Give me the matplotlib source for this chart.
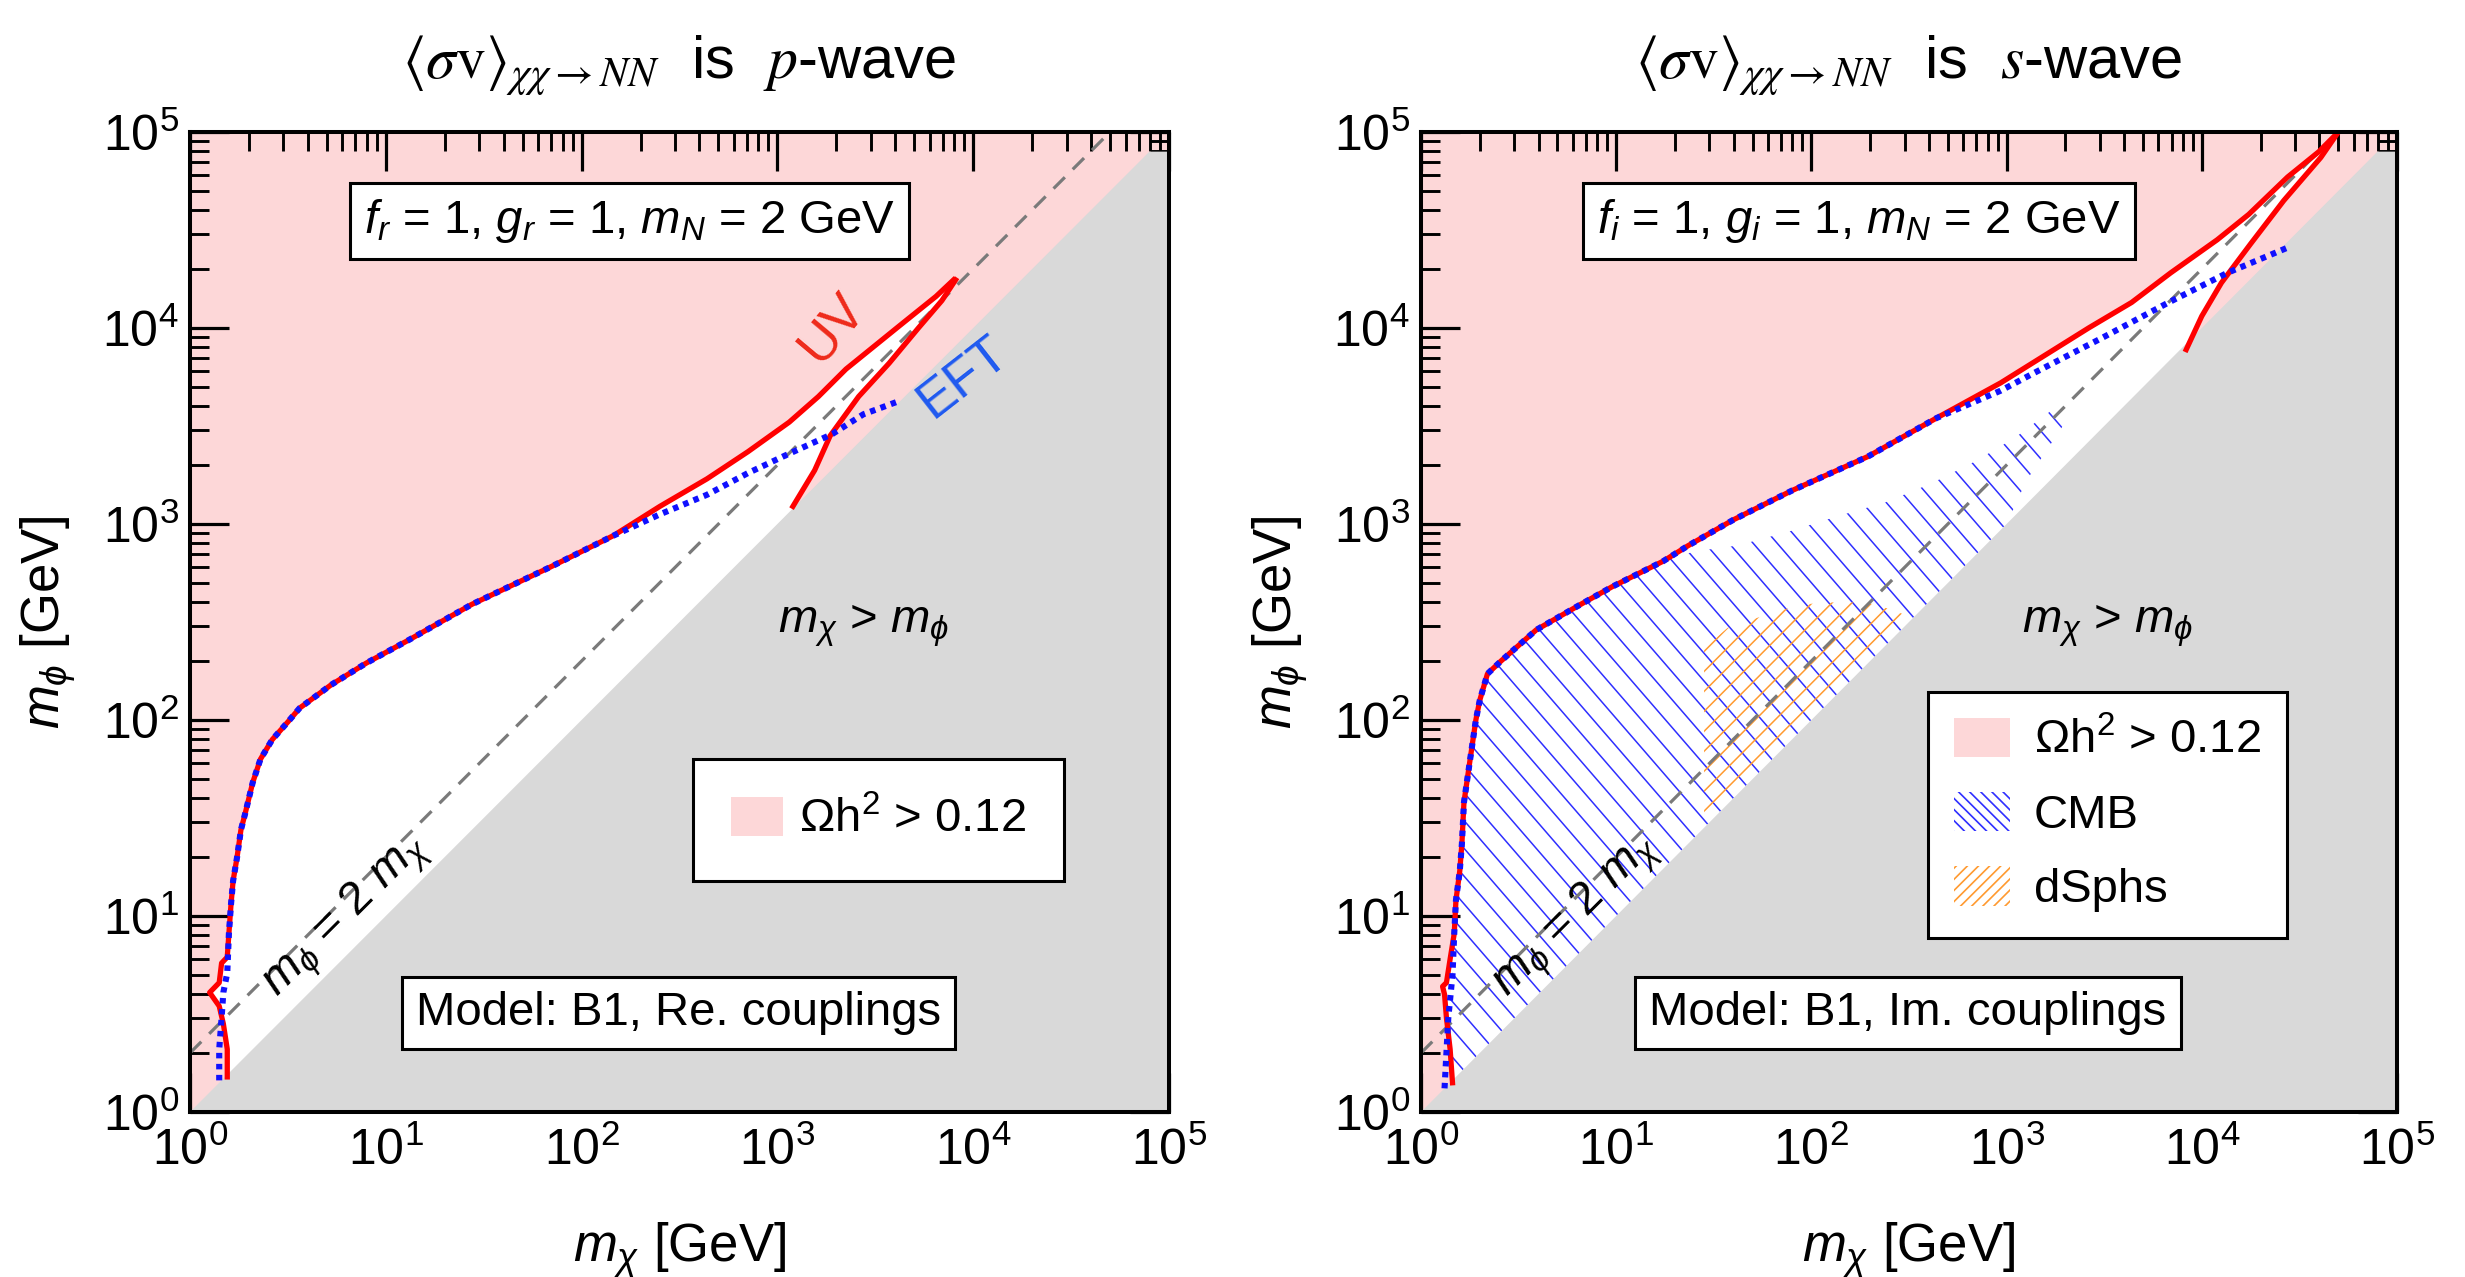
import numpy as np
import matplotlib
matplotlib.use('Agg')
import matplotlib.pyplot as plt
from matplotlib.patches import Polygon, Patch
from matplotlib.collections import LineCollection
from matplotlib.ticker import LogLocator, NullFormatter

plt.rcParams['font.family'] = ['Liberation Sans', 'DejaVu Sans']
plt.rcParams['mathtext.fontset'] = 'custom'
plt.rcParams['mathtext.rm'] = 'Liberation Sans'
plt.rcParams['mathtext.it'] = 'Liberation Sans:italic'
plt.rcParams['mathtext.bf'] = 'Liberation Sans:bold'

PINK = '#fdd7d8'
GRAY = '#d9d9d9'
RED = '#ff0000'
BLUE = '#1010ff'
CMB_COL = '#2f2fff'
DSPH_COL = '#ff9a30'

# ---- p-wave (Re. couplings): relic-density contours, masses in GeV ----
p_uv_mchi = [1.55, 1.55, 1.48, 1.41, 1.26, 1.41, 1.45, 1.55, 1.58, 1.62, 1.66, 1.74,
             1.82, 1.91, 2.09, 2.29, 2.63, 3.16, 3.63, 5.25, 7.94, 13.2, 27.5, 69.2,
             145, 251, 437, 708, 1150, 1620, 2240, 4170, 6460, 7940]
p_uv_mphi = [1.51, 2.09, 2.82, 3.47, 4.07, 4.57, 5.75, 6.17, 8.13, 11.5, 15.1, 20.0,
             27.5, 33.1, 47.9, 63.1, 79.4, 97.7, 115, 151, 195, 257, 389, 603,
             871, 1230, 1700, 2340, 3310, 4470, 6170, 10200, 14500, 17600]
p_uv2_mchi = [1200, 1550, 1860, 2600, 3720, 5250, 6920, 8130]
p_uv2_mphi = [1230, 1880, 2820, 4470, 6610, 10000, 13800, 17600]
p_eft_mchi = [1.41, 1.41, 1.45, 1.48, 1.55, 1.58, 1.62, 1.66, 1.74, 1.82, 1.91, 2.09,
              2.29, 2.63, 3.16, 3.63, 5.25, 7.94, 13.2, 27.5, 69.2, 145, 251, 437,
              708, 1100, 1910, 2750, 4270]
p_eft_mphi = [1.45, 2.09, 3.02, 4.07, 5.13, 8.13, 11.5, 15.1, 20.0, 27.5, 33.1, 47.9,
              63.1, 79.4, 97.7, 115, 151, 195, 257, 389, 603, 871, 1120, 1410,
              1820, 2240, 2880, 3630, 4270]

# ---- s-wave (Im. couplings) ----
s_uv_mchi = [1.45, 1.41, 1.35, 1.32, 1.29, 1.35, 1.41, 1.48, 1.51, 1.58, 1.62, 1.66,
             1.78, 1.91, 2.00, 2.19, 2.57, 3.89, 6.31, 9.55, 17.4, 23.4, 39.8, 79.4,
             195, 437, 933, 1510, 2630, 4370, 6920, 12000, 17400, 27500, 39800, 50100]
s_uv_mphi = [1.41, 2.09, 3.02, 3.98, 4.37, 4.57, 6.03, 8.13, 12.0, 17.0, 23.4, 38.0,
             61.7, 100, 126, 172, 200, 288, 380, 479, 646, 776, 1050, 1480,
             2210, 3470, 5250, 7080, 10000, 13500, 19100, 28200, 38000, 58900, 79400, 100000]
s_uv2_mchi = [8320, 10000, 12600, 17800, 26300, 40700, 50100]
s_uv2_mphi = [7760, 11500, 17000, 26900, 44700, 74100, 100000]
s_eft_mchi = [1.32, 1.38, 1.45, 1.48, 1.51, 1.58, 1.62, 1.66, 1.78, 1.91, 2.00, 2.19,
              2.57, 3.89, 6.31, 9.55, 17.4, 23.4, 39.8, 79.4, 195, 437, 933, 1380,
              3090, 6760, 13500, 27500]
s_eft_mphi = [1.32, 3.02, 5.01, 8.13, 12.0, 17.0, 23.4, 38.0, 61.7, 100, 126, 172,
              200, 288, 380, 479, 646, 776, 1050, 1480, 2210, 3470, 4790, 5890,
              8910, 13500, 19100, 25700]

# indirect-detection exclusions (s-wave only)
cmb_mchi = [1.41, 1.38, 1.45, 1.48, 1.51, 1.58, 1.62, 1.66, 1.78, 1.91, 2.00, 2.19,
            2.57, 3.89, 6.31, 9.55, 17.4, 25.1, 41.7, 75.9, 138, 240, 417, 692,
            1100, 1700, 2000, 1260, 1000, 1.58]
cmb_mphi = [1.78, 3.02, 5.01, 8.13, 12.0, 17.0, 23.4, 38.0, 61.7, 100, 126, 172,
            200, 288, 380, 479, 646, 724, 776, 912, 1100, 1290, 1620, 2090,
            2750, 3800, 3310, 1660, 1000, 1.58]
dsph_mchi = [28.2, 28.2, 37.2, 49.0, 69.2, 93.3, 117, 178, 214, 295]
dsph_mphi = [33.1, 234, 295, 324, 363, 389, 398, 398, 389, 347]

# kinematic boundary m_chi > m_phi
kin_mchi = [1, 7.94e4, 1e5, 1e5]
kin_mphi = [1, 7.94e4, 7.94e4, 1]
# resonance line m_phi = 2 m_chi
res_mchi = np.array([1, 5e4])


def hatch_region(ax, xs, ys, step, angle, color, z):
    poly = Polygon(np.column_stack([xs, ys]), closed=True, fc='none', ec='none',
                   transform=ax.transData)
    ax.add_patch(poly)
    t = np.deg2rad(angle)
    d = np.array([np.cos(t), np.sin(t)])
    n = np.array([-np.sin(t), np.cos(t)])
    segs = []
    for o in np.arange(-1.5, 1.5, step):
        c = 0.5 + o * n
        segs.append([c - 2 * d, c + 2 * d])
    lc = LineCollection(segs, colors=color, linewidths=1.1, transform=ax.transAxes,
                        zorder=z)
    lc.set_clip_path(poly)
    ax.add_collection(lc)


def draw_panel(ax, uv_x, uv_y, uv2_x, uv2_y, eft_x, eft_y, label_x):
    ax.set_xscale('log')
    ax.set_yscale('log')
    ax.set_xlim(1, 1e5)
    ax.set_ylim(1, 1e5)
    ax.set_facecolor(PINK)

    # allowed (white) region between the UV contour branches
    wx = np.concatenate([uv_x, uv2_x[::-1], [uv2_x[0], uv_x[0]]])
    wy = np.concatenate([uv_y, uv2_y[::-1], [0.7 * uv2_x[0], 0.7 * uv_x[0]]])
    ax.fill(wx, wy, color='white', lw=0, zorder=1)
    ax.fill(kin_mchi, kin_mphi, color=GRAY, lw=0, zorder=1.8)

    ax.plot(res_mchi, 2 * res_mchi, color='#7a7a7a', lw=2.3, dashes=(5, 3.5), zorder=2)
    ax.plot(uv_x, uv_y, color=RED, lw=3.8, zorder=2.2, solid_joinstyle='round')
    ax.plot(uv2_x, uv2_y, color=RED, lw=3.8, zorder=2.2)
    ax.plot(eft_x, eft_y, color=BLUE, lw=4.4, linestyle=(0, (0.9, 0.9)),
            dash_capstyle='butt', zorder=2.3)

    ax.xaxis.set_major_locator(LogLocator(base=10, numticks=10))
    ax.yaxis.set_major_locator(LogLocator(base=10, numticks=10))
    ax.xaxis.set_minor_locator(LogLocator(base=10, subs=np.arange(2, 10), numticks=100))
    ax.yaxis.set_minor_locator(LogLocator(base=10, subs=np.arange(2, 10), numticks=100))
    ax.xaxis.set_minor_formatter(NullFormatter())
    ax.yaxis.set_minor_formatter(NullFormatter())
    ax.tick_params(which='both', direction='in', top=True, right=True, labelsize=36)
    ax.tick_params(which='major', length=28, width=2.3)
    ax.tick_params(which='minor', length=13.5, width=2.1)
    ax.tick_params(axis='x', which='major', pad=11)
    ax.tick_params(axis='y', which='major', pad=8)
    for sp in ax.spines.values():
        sp.set_linewidth(2.9)
        sp.set_zorder(4)

    ax.set_xlabel(r'$m_\chi$ [GeV]', fontsize=38)
    ax.set_ylabel(r'$m_\phi$ [GeV]', fontsize=38)
    ax.xaxis.set_label_coords(0.5, -0.111)
    ax.yaxis.set_label_coords(-0.114, 0.5)

    ax.text(label_x, 302, r'$m_\chi$ > $m_\phi$', fontsize=34, ha='center', va='center',
            zorder=3)


W, H = 2465, 1277
fig = plt.figure(figsize=(W / 100, H / 100), dpi=100)
ax1 = fig.add_axes([190 / W, 1 - 1112 / H, 979 / W, 980 / H])
ax2 = fig.add_axes([1421 / W, 1 - 1112 / H, 976 / W, 980 / H])

draw_panel(ax1, np.array(p_uv_mchi), np.array(p_uv_mphi), np.array(p_uv2_mchi),
           np.array(p_uv2_mphi), np.array(p_eft_mchi), np.array(p_eft_mphi), 2750)
draw_panel(ax2, np.array(s_uv_mchi), np.array(s_uv_mphi), np.array(s_uv2_mchi),
           np.array(s_uv2_mphi), np.array(s_eft_mchi), np.array(s_eft_mphi), 3310)

hatch_region(ax2, cmb_mchi, cmb_mphi, 0.0186, -49, CMB_COL, 1.5)
hatch_region(ax2, dsph_mchi, dsph_mphi, 0.0144, 45, DSPH_COL, 1.6)

box = dict(boxstyle='square,pad=0.3', fc='white', ec='black', lw=2.2)
for ax, wave, coup, model in [(ax1, 'p', 'r', 'Re.'), (ax2, 's', 'i', 'Im.')]:
    ax.text(0.5, 1.055,
            r'$\langle\sigma\mathrm{v}\rangle_{\chi\chi\rightarrow NN}$  is  $%s$-wave' % wave,
            transform=ax.transAxes, ha='center', va='baseline', fontsize=43,
            math_fontfamily='stix')
    ax.text(0.449, 0.909, r'$f_%s$ = 1, $g_%s$ = 1, $m_N$ = 2 GeV' % (coup, coup),
            transform=ax.transAxes, ha='center', va='center', fontsize=34, bbox=box,
            zorder=6)
    ax.text(0.499, 0.101, 'Model: B1, %s couplings' % model, transform=ax.transAxes,
            ha='center', va='center', fontsize=34, bbox=box, zorder=6)
    ax.text(6.25, 10.0, r'$m_\phi$ = 2 $m_\chi$', rotation=45, fontsize=34,
            ha='center', va='center', rotation_mode='anchor', zorder=3)

ax1.text(1905, 10000, 'UV', color='#ee2a1a', fontsize=38, rotation=50,
         ha='center', va='center', zorder=3)
ax1.text(8910, 5620, 'EFT', color='#1f5af0', fontsize=38, rotation=38,
         ha='center', va='center', zorder=3)

leg_kw = dict(fontsize=34, loc='upper left', frameon=True, fancybox=False,
              framealpha=1, edgecolor='black', handleheight=0.9, borderaxespad=0)
relic = Patch(facecolor=PINK, edgecolor='none', label=r'Ωh$^2$ > 0.12')
leg1 = ax1.legend(handles=[relic], bbox_to_anchor=(0.514, 0.360), handlelength=1.1,
                  handletextpad=0.35, borderpad=0.8, **leg_kw)
leg1.get_frame().set_linewidth(2.2)
leg1.set_zorder(6)

plt.rcParams['hatch.linewidth'] = 1.2
cmb_h = Patch(facecolor='white', edgecolor=CMB_COL, hatch='\\\\\\', lw=0, label='CMB')
dsph_h = Patch(facecolor='white', edgecolor=DSPH_COL, hatch='///', lw=0, label='dSphs')
leg2 = ax2.legend(handles=[relic, cmb_h, dsph_h], bbox_to_anchor=(0.519, 0.4286),
                  handlelength=1.2, handletextpad=0.5, borderpad=0.55,
                  labelspacing=0.6, **leg_kw)
leg2.get_frame().set_linewidth(2.2)
leg2.set_zorder(6)

fig.savefig('out.png', dpi=100)
